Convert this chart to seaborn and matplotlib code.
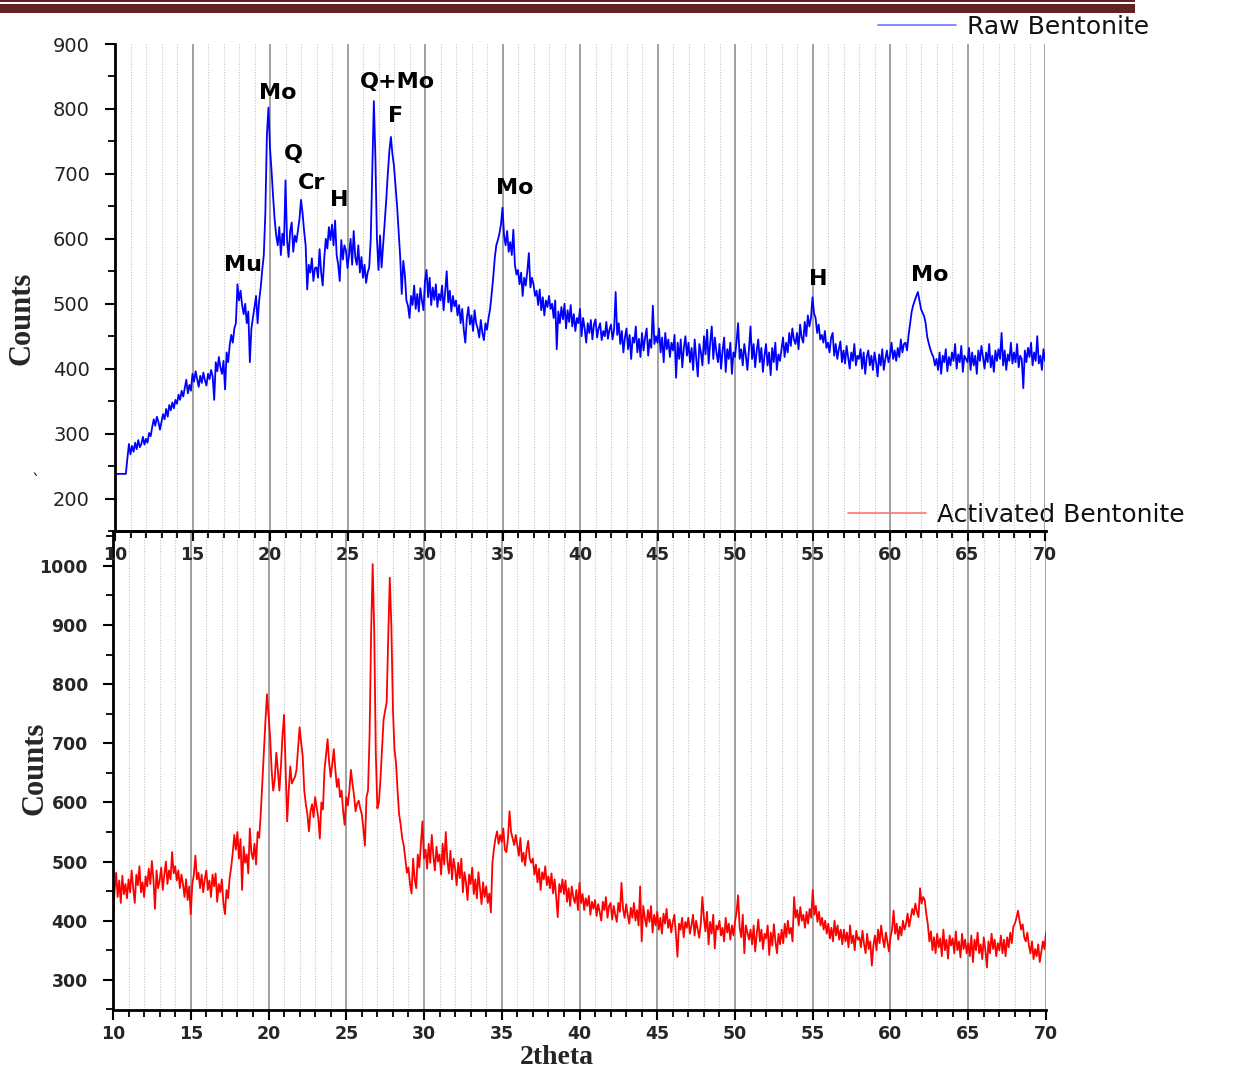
import matplotlib
matplotlib.use("Agg")
import numpy as np
import pandas as pd
import seaborn as sns
import matplotlib.pyplot as plt
from matplotlib.ticker import MultipleLocator
from matplotlib.patches import Rectangle

# ---------------- data (0.1 deg scan step) ----------------
two_theta = np.round(np.linspace(10, 70, 601), 1)

raw_counts = [
    238,238,238,238,238,238,238,238,262,284,
    268,281,272,286,276,290,279,284,295,283,
    292,286,301,296,310,322,312,326,318,306,
    318,330,322,338,326,344,336,348,339,352,
    346,360,352,366,357,370,383,362,375,366,
    392,380,396,384,372,389,378,394,382,374,
    392,384,398,388,352,410,396,418,402,392,
    412,368,425,410,436,452,440,462,470,530,
    505,520,498,484,500,470,488,410,462,478,
    495,512,470,505,525,552,575,640,760,802,
    740,705,665,630,605,590,618,575,608,590,
    690,598,572,612,625,580,605,595,612,630,
    660,640,612,590,522,560,548,570,535,555,
    556,540,584,548,528,570,600,585,618,598,
    622,590,628,575,560,535,598,568,590,582,
    555,575,600,560,612,572,560,590,548,572,
    540,560,532,548,556,600,705,812,725,600,
    552,605,556,590,625,660,700,735,757,730,
    712,680,650,610,572,515,566,545,505,497,
    478,512,498,528,492,515,488,524,505,490,
    535,552,510,540,498,525,506,530,495,515,
    505,528,490,518,550,502,520,488,512,496,
    505,482,498,470,492,460,440,478,495,468,
    482,458,490,470,462,448,475,455,444,470,
    460,478,492,515,540,570,590,598,608,622,
    648,605,590,612,580,595,575,614,560,545,
    552,530,548,512,540,528,550,578,525,540,
    530,512,520,498,522,490,510,482,505,495,
    512,492,500,478,505,430,488,470,495,476,
    500,462,490,472,498,465,484,458,478,470,
    492,450,478,462,440,470,455,475,445,468,
    476,448,462,470,444,458,450,472,446,460,
    468,445,460,518,452,470,438,458,425,448,
    462,430,452,415,448,440,465,425,446,418,
    455,428,448,462,420,445,432,497,438,450,
    440,462,425,448,410,455,430,445,418,440,
    428,452,386,440,415,445,402,432,450,420,
    440,410,432,398,445,415,388,438,425,405,
    450,422,460,408,440,465,415,448,425,410,
    438,400,428,448,395,430,415,440,392,425,
    418,442,470,415,430,405,438,420,398,430,
    465,415,438,402,428,445,410,432,395,420,
    438,405,425,390,432,410,440,398,422,412,
    430,448,418,440,425,455,435,462,445,438,
    455,430,468,448,440,472,450,482,465,478,
    510,485,478,455,468,445,452,440,458,432,
    440,425,448,455,420,438,415,430,442,410,
    428,408,435,418,400,425,412,438,405,420,
    415,430,400,425,392,418,428,405,420,398,
    425,410,388,422,405,430,398,415,428,410,
    420,440,415,428,412,432,418,445,425,438,
    440,428,452,470,488,498,505,512,518,505,
    492,486,481,470,449,439,430,423,418,405,
    415,398,425,392,420,410,430,396,418,405,
    425,412,438,400,422,410,435,395,420,415,
    410,432,398,425,405,420,392,428,412,435,
    418,400,425,410,438,402,420,395,428,412,
    430,415,455,405,428,398,422,412,440,408,
    425,410,438,402,420,415,370,428,410,432,
    418,440,405,425,412,450,408,420,398,430,
    412,
]

activated_counts = [
    394,452,481,440,468,430,476,445,462,438,
    470,448,485,455,430,478,460,492,448,465,
    440,475,458,488,462,501,470,420,485,455,
    468,490,452,478,500,462,485,470,516,480,
    492,468,485,455,478,462,440,470,435,458,
    411,462,478,510,470,481,455,478,448,470,
    485,452,468,440,478,458,480,432,462,448,
    470,430,411,452,438,472,490,515,545,520,
    550,505,538,452,525,498,512,480,556,515,
    504,530,495,550,540,580,632,684,736,783,
    748,713,655,620,638,684,655,620,661,713,
    748,655,568,620,661,632,638,643,655,690,
    727,701,678,620,597,580,551,585,597,575,
    609,592,574,539,600,588,655,680,707,667,
    643,665,690,655,626,640,609,620,585,562,
    609,595,620,655,632,612,585,598,603,590,
    580,556,527,609,620,713,887,1003,887,684,
    590,600,640,690,740,755,770,880,980,900,
    760,690,667,620,580,562,539,527,504,481,
    490,462,446,505,470,455,512,490,528,568,
    505,520,488,530,498,545,510,485,525,500,
    512,478,530,495,550,502,480,518,470,505,
    488,460,498,472,505,448,482,465,435,478,
    462,490,445,470,438,482,455,428,465,440,
    458,430,446,414,498,522,540,551,530,545,
    533,556,520,516,540,585,550,539,528,545,
    527,510,540,500,515,493,520,535,505,498,
    505,478,495,465,488,452,482,470,492,460,
    475,455,480,446,470,440,406,462,448,470,
    445,468,432,455,425,458,440,430,452,418,
    464,430,445,418,438,425,442,410,432,420,
    435,408,428,415,400,432,418,440,405,425,
    430,402,425,410,398,430,415,464,420,405,
    428,410,395,422,405,430,400,418,392,458,
    365,425,405,390,418,398,425,380,410,392,
    415,385,405,378,412,395,420,388,402,380,
    398,410,378,339,395,385,405,372,398,388,
    405,378,392,410,375,400,385,371,395,440,
    405,382,415,360,398,378,410,353,392,385,
    400,375,388,365,405,380,395,368,392,375,
    398,415,443,388,372,410,345,392,380,368,
    385,360,392,348,378,402,365,385,352,378,
    370,392,342,380,358,394,365,345,378,360,
    385,362,395,372,400,378,388,365,440,405,
    418,392,423,400,410,388,415,395,420,405,
    452,410,425,398,415,392,405,385,400,378,
    395,370,388,365,400,375,392,368,385,360,
    385,365,380,355,392,362,375,350,383,368,
    372,355,383,360,345,378,352,365,324,358,
    375,350,385,362,392,370,355,380,365,348,
    372,385,417,378,395,368,390,375,400,385,
    395,412,390,405,420,410,429,415,406,455,
    429,440,435,412,394,365,382,350,372,345,
    378,355,370,340,385,350,368,336,375,358,
    370,345,382,350,365,338,378,352,368,345,
    362,340,375,330,368,350,380,345,360,335,
    372,350,321,365,345,378,352,368,340,362,
    350,375,345,368,340,372,355,380,362,390,
    395,405,417,400,385,394,372,365,380,358,
    345,365,335,352,340,360,330,348,365,352,
    380,
]

peak_labels = ["Mu", "Mo", "Q", "Cr", "H", "Q+Mo", "F", "Mo", "H", "Mo"]
peak_x = [18.26, 20.52, 21.48, 22.65, 24.45, 28.19, 28.13, 35.8, 55.35, 62.58]
peak_y = [559, 825, 730, 686, 660, 841, 789, 678, 538, 544]

x_ticks = [10, 15, 20, 25, 30, 35, 40, 45, 50, 55, 60, 65, 70]
raw_yticks = [200, 300, 400, 500, 600, 700, 800, 900]
act_yticks = [300, 400, 500, 600, 700, 800, 900, 1000]

df_raw = pd.DataFrame({"2theta": two_theta, "Counts": raw_counts})
df_act = pd.DataFrame({"2theta": two_theta, "Counts": activated_counts})

# ---------------- style ----------------
sns.set_theme(style="white")
plt.rcParams["font.family"] = ["DejaVu Sans"]

W, H = 1238, 1069
fig = plt.figure(figsize=(W / 100, H / 100), dpi=100)
fig.patch.set_facecolor("white")

ax2 = fig.add_axes([113 / W, 1 - 1010 / H, (1046 - 113) / W, (1010 - 531) / H])
ax1 = fig.add_axes([115 / W, 1 - 531 / H, (1045 - 115) / W, (531 - 44) / H])
ax1.set_zorder(3)
ax1.patch.set_visible(False)

sns.lineplot(data=df_raw, x="2theta", y="Counts", ax=ax1, color="#0000ff",
             lw=1.3, estimator=None, label="Raw Bentonite")
sns.lineplot(data=df_act, x="2theta", y="Counts", ax=ax2, color="#ff0000",
             lw=1.3, estimator=None, label="Activated Bentonite")

for ax, yt, ylim in [(ax1, raw_yticks, (150, 900)), (ax2, act_yticks, (249, 1059))]:
    ax.set_xlim(10, 70)
    ax.set_ylim(*ylim)
    ax.set_xticks(x_ticks)
    ax.set_yticks(yt)
    ax.xaxis.set_minor_locator(MultipleLocator(1))
    ax.yaxis.set_minor_locator(MultipleLocator(50))
    ax.grid(False)
    ax.grid(True, which="major", axis="x", color="#9a9a9a", lw=1.3, ls="-")
    ax.grid(True, which="minor", axis="x", color="#c4c4c4", lw=0.8, ls=(0, (1, 1.5)))
    ax.set_axisbelow(True)
    for s in ["left", "bottom"]:
        ax.spines[s].set_visible(True)
        ax.spines[s].set_color("black")
        ax.spines[s].set_linewidth(2.0)
    ax.spines["right"].set_visible(False)
    ax.tick_params(axis="both", which="major", direction="out", length=7, width=1.5,
                   color="black", bottom=True, left=True)
    ax.tick_params(axis="both", which="minor", direction="out", length=5, width=1.3,
                   color="black", bottom=True, left=True)
    ax.tick_params(axis="x", which="major", pad=4, labelsize=12.5)
    ax.tick_params(axis="y", which="major", pad=11)
    for lab in ax.get_xticklabels():
        lab.set_fontweight("bold")
    ax.set_xlabel("")
    ax.set_ylabel("")

# top panel y labels: regular weight, wide; bottom panel: bold
ax1.tick_params(axis="y", which="major", labelsize=14, labelcolor="#222222")
for lab in ax1.get_yticklabels():
    lab.set_fontweight("normal")
ax2.tick_params(axis="y", which="major", labelsize=12.5)
for lab in ax2.get_yticklabels():
    lab.set_fontweight("bold")

ax1.spines["top"].set_visible(False)
ax2.spines["top"].set_visible(True)
ax2.spines["top"].set_color("black")
ax2.spines["top"].set_linewidth(2.0)

# peak annotations
for lab, px, py in zip(peak_labels, peak_x, peak_y):
    ax1.text(px, py, lab, ha="center", va="center", fontsize=16, fontweight="bold",
             color="black")

# legends
leg1 = ax1.legend(loc="center left", bbox_to_anchor=(878 / W, 1 - 27 / H),
                  bbox_transform=fig.transFigure, frameon=False,
                  prop={"size": 18, "weight": "normal"}, handlelength=3.1,
                  handletextpad=0.45, borderpad=0, borderaxespad=0)
leg2 = ax2.legend(loc="center left", bbox_to_anchor=(848 / W, 1 - 515 / H),
                  bbox_transform=fig.transFigure, frameon=False,
                  prop={"size": 18, "weight": "normal"}, handlelength=3.1,
                  handletextpad=0.45, borderpad=0, borderaxespad=0)
for leg in (leg1, leg2):
    for ln in leg.get_lines():
        ln.set_alpha(0.55)
        ln.set_linewidth(1.2)
    for t in leg.get_texts():
        t.set_color("#111111")

# axis titles
serif = ["Liberation Serif", "DejaVu Serif"]
fig.text(22 / W, 1 - 318 / H, "Counts", rotation=90, ha="center", va="center",
         fontsize=22, fontweight="bold", family=serif)
fig.text(35 / W, 1 - 768 / H, "Counts", rotation=90, ha="center", va="center",
         fontsize=22, fontweight="bold", family=serif)
fig.text(557 / W, 1 - 1058 / H, "2theta", ha="center", va="center",
         fontsize=20, fontweight="bold", family=serif)
fig.text(36 / W, 1 - 482 / H, "`", ha="center", va="center", fontsize=12,
         fontweight="normal", color="#222222")

# header bars
fig.add_artist(Rectangle((0, 1 - 2 / H), 1135 / W, 2 / H, transform=fig.transFigure,
                         color="#622423", lw=0))
fig.add_artist(Rectangle((0, 1 - 13 / H), 1135 / W, 8.5 / H, transform=fig.transFigure,
                         color="#622423", lw=0))

fig.savefig("out.png", dpi=100, facecolor="white")
